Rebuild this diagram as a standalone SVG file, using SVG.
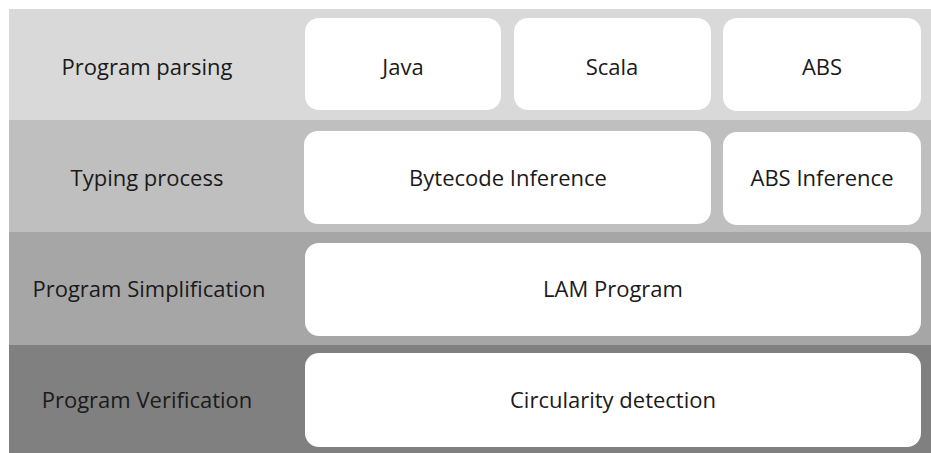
<svg xmlns="http://www.w3.org/2000/svg" width="931" height="453" viewBox="0 0 931 453">
<style>
.box{fill:#ffffff;}
text{font-family:"Open Sans","Noto Sans","Liberation Sans",sans-serif;font-size:22px;fill:#1a1a1a;text-anchor:middle;}
</style>
<rect x="0" y="0" width="931" height="453" fill="#ffffff"/>
<g id="band1"><rect x="9" y="9" width="922" height="111" fill="#d9d9d9"/><text x="147" y="75">Program parsing</text></g>
<g id="band2"><rect x="9" y="120" width="922" height="112" fill="#bfbfbf"/><text x="147" y="186">Typing process</text></g>
<g id="band3"><rect x="9" y="232" width="922" height="113" fill="#a6a6a6"/><text x="149" y="297">Program Simplification</text></g>
<g id="band4"><rect x="9" y="345" width="922" height="108" fill="#808080"/><text x="147" y="408">Program Verification</text></g>
<g id="java"><rect class="box" x="305" y="18" width="196" height="92" rx="14"/><text x="403" y="75">Java</text></g>
<g id="scala"><rect class="box" x="514" y="18" width="197" height="92" rx="14"/><text x="612" y="75">Scala</text></g>
<g id="abs"><rect class="box" x="723" y="18" width="198" height="93" rx="14"/><text x="822" y="75">ABS</text></g>
<g id="bytecode"><rect class="box" x="304" y="131" width="407" height="93" rx="14"/><text x="508" y="186">Bytecode Inference</text></g>
<g id="absinf"><rect class="box" x="723" y="132" width="198" height="93" rx="14"/><text x="822" y="186">ABS Inference</text></g>
<g id="lam"><rect class="box" x="305" y="243" width="616" height="93" rx="14"/><text x="613" y="297">LAM Program</text></g>
<g id="circ"><rect class="box" x="305" y="353" width="616" height="94" rx="14"/><text x="613" y="408">Circularity detection</text></g>
<g id="connectors"></g>
</svg>
